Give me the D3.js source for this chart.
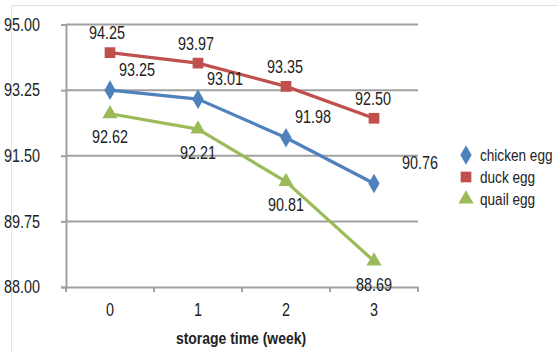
<!DOCTYPE html>
<html><head><meta charset="utf-8">
<script src="https://cdn.jsdelivr.net/npm/d3@7"></script>
<style>
html,body{margin:0;padding:0;background:#fff;}
svg{display:block;}
text{font-family:"Liberation Sans",Arial,sans-serif;}
</style></head>
<body>
<svg id="chart" width="558" height="353"></svg>
<script>
const weeks = ["0", "1", "2", "3"];
const yTicks = [88.00, 89.75, 91.50, 93.25, 95.00];
const seriesNames = ["chicken egg", "duck egg", "quail egg"];
const chicken = [93.25, 93.01, 91.98, 90.76];
const duck = [94.25, 93.97, 93.35, 92.50];
const quail = [92.62, 92.21, 90.81, 88.69];
const xTitle = "storage time (week)";

const series = [
  {name: seriesNames[0], values: chicken, color: "#4F81BD", symbol: d3.symbolDiamond, size: 110, dx: [27, 27, 27, 46], dy: -21},
  {name: seriesNames[1], values: duck, color: "#C0504D", symbol: d3.symbolSquare, size: 115, dx: [-3, -2, -1, -1], dy: -20},
  {name: seriesNames[2], values: quail, color: "#9BBB59", symbol: d3.symbolTriangle, size: 100, dx: [0, 0, 0, 0], dy: 23}
];

const svg = d3.select("#chart");
const mLeft = 66, mRight = 418, mTop = 24.5, mBottom = 287;
const FS = 18, SQ = 0.8;

// condense text horizontally
function condense(sel, f) {
  sel.each(function() {
    const len = this.getComputedTextLength();
    d3.select(this).attr("textLength", len * f).attr("lengthAdjust", "spacingAndGlyphs");
  });
}

// frame
svg.append("path").attr("d", "M11.5,360 L11.5,5.5 L560,5.5")
  .attr("fill", "none").attr("stroke", "#e2e2e2").attr("stroke-width", 1);

const x = d3.scaleBand().domain(weeks).range([mLeft, mRight]);
const y = d3.scaleLinear().domain([88, 95]).range([mBottom, mTop]);

// gridlines
svg.append("g").selectAll("line").data(yTicks.slice(1)).join("line")
  .attr("x1", mLeft).attr("x2", mRight)
  .attr("y1", d => y(d)).attr("y2", d => y(d))
  .attr("stroke", "#a0a0a0").attr("stroke-width", 2);

// y axis
const yAxis = svg.append("g").attr("transform", `translate(${mLeft},0)`)
  .call(d3.axisLeft(y).tickValues(yTicks).tickFormat(d3.format(".2f")).tickSize(5).tickPadding(21));
yAxis.select(".domain").attr("stroke", "#a0a0a0").attr("stroke-width", 2);
yAxis.selectAll(".tick line").attr("stroke", "#a0a0a0").attr("stroke-width", 2);
yAxis.selectAll("text").attr("font-size", FS).attr("fill", "#222")
  .attr("font-family", "'Liberation Sans',sans-serif").call(condense, SQ);

// x axis
const xAxis = svg.append("g").attr("transform", `translate(0,${mBottom})`)
  .call(d3.axisBottom(x).tickSize(0).tickPadding(16));
xAxis.select(".domain").attr("stroke", "#a0a0a0").attr("stroke-width", 2);
xAxis.selectAll("text").attr("font-size", FS).attr("fill", "#222")
  .attr("font-family", "'Liberation Sans',sans-serif").call(condense, SQ);
// band-edge tick marks
svg.append("g").selectAll("line").data(weeks).join("line")
  .attr("x1", d => x(d) + x.bandwidth()).attr("x2", d => x(d) + x.bandwidth())
  .attr("y1", mBottom).attr("y2", mBottom + 5)
  .attr("stroke", "#a0a0a0").attr("stroke-width", 2);
svg.append("line").attr("x1", mLeft).attr("x2", mLeft).attr("y1", mBottom).attr("y2", mBottom + 5)
  .attr("stroke", "#a0a0a0").attr("stroke-width", 2);

// x title
svg.append("text").attr("x", (mLeft + mRight) / 2 - 1).attr("y", 344)
  .attr("text-anchor", "middle").attr("font-size", 17).attr("font-weight", "bold")
  .attr("fill", "#222").text(xTitle).call(condense, 0.82);

const cx = i => x(weeks[i]) + x.bandwidth() / 2;
const line = d3.line().x((d, i) => cx(i)).y(d => y(d));

series.forEach(s => {
  svg.append("path").datum(s.values).attr("d", line)
    .attr("fill", "none").attr("stroke", s.color).attr("stroke-width", 3.2)
    .attr("stroke-linejoin", "round");
});
series.forEach(s => {
  svg.append("g").selectAll("path").data(s.values).join("path")
    .attr("d", d3.symbol().type(s.symbol).size(s.size))
    .attr("transform", (d, i) => `translate(${cx(i)},${y(d)})`)
    .attr("fill", s.color);
});
series.forEach(s => {
  svg.append("g").selectAll("text").data(s.values).join("text")
    .attr("x", (d, i) => cx(i) + s.dx[i])
    .attr("y", d => y(d) + s.dy)
    .attr("dy", "0.36em")
    .attr("text-anchor", "middle").attr("font-size", FS).attr("fill", "#222")
    .text(d => d3.format(".2f")(d)).call(condense, SQ);
});

// legend
const lg = svg.append("g").attr("transform", "translate(466,155)");
series.forEach((s, i) => {
  const g = lg.append("g").attr("transform", `translate(0,${i * 22})`);
  g.append("path").attr("d", d3.symbol().type(s.symbol).size(s.size)).attr("fill", s.color);
  g.append("text").attr("transform", "translate(14,0) scale(0.8,1)")
    .attr("dy", "0.35em").attr("font-size", 17)
    .attr("fill", "#222").text(s.name);
});
</script>
</body></html>
